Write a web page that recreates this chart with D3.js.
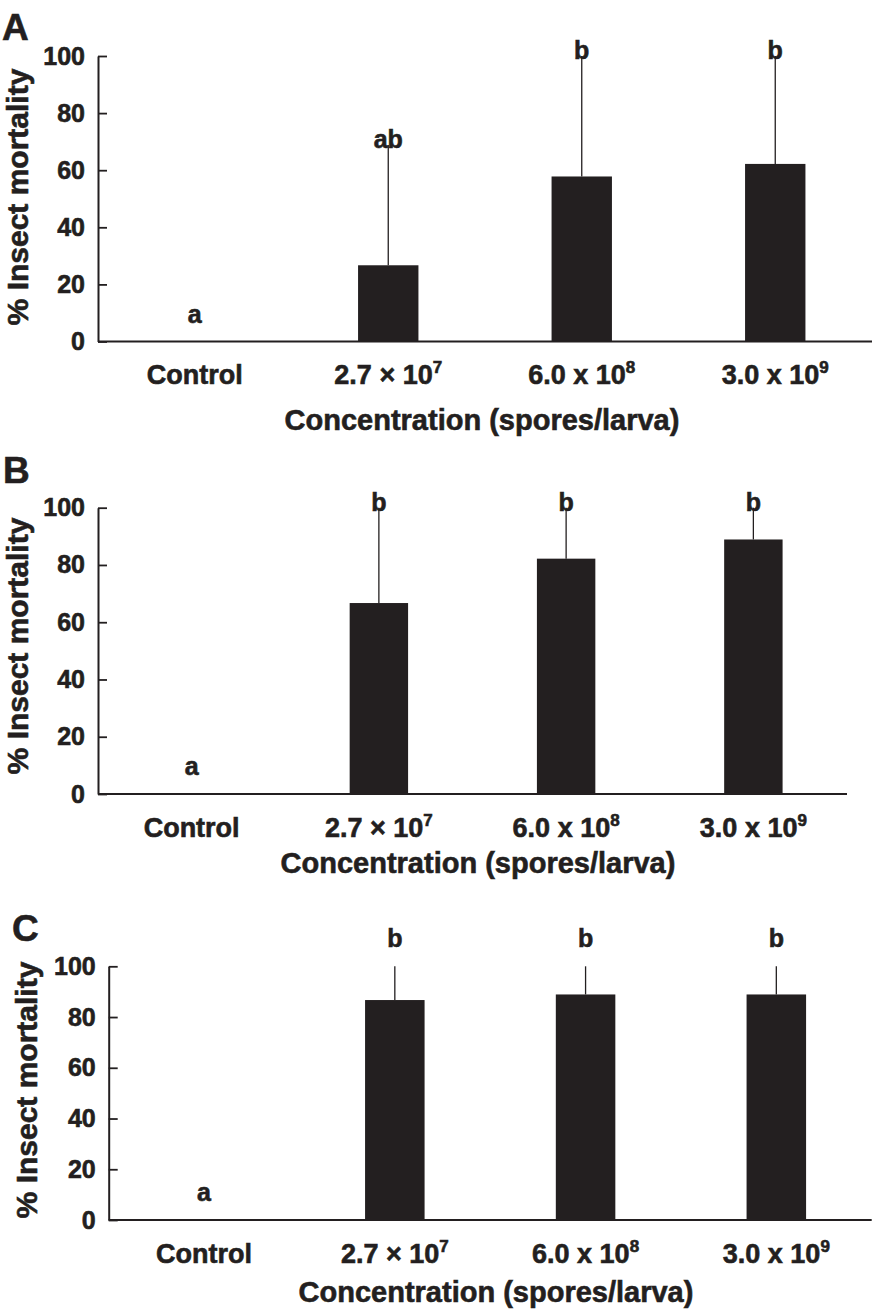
<!DOCTYPE html>
<html>
<head>
<meta charset="utf-8">
<script src="https://cdn.jsdelivr.net/npm/d3@7"></script>
<style>
  html, body { margin: 0; padding: 0; background: #fff; }
  svg { display: block; }
  text { font-family: "Liberation Sans", Arial, Helvetica, sans-serif; font-weight: bold; fill: #231f20;
         stroke: #231f20; stroke-width: 0.6px; }
</style>
</head>
<body>
<svg id="chart" width="872" height="1312"></svg>
<script>
// ---- data ----
const categories = ["Control", "2.7 × 10^7", "6.0 x 10^8", "3.0 x 10^9"];
const catBase = ["Control", "2.7 × 10", "6.0 x 10", "3.0 x 10"];
const catExp = ["", "7", "8", "9"];
const yTicks = [0, 20, 40, 60, 80, 100];

const mortalityA = [0, 26.7, 57.8, 62.2];
const errorA = [0, 42.1, 42.2, 37.8];
const lettersA = ["a", "ab", "b", "b"];

const mortalityB = [0, 66.7, 82.2, 88.9];
const errorB = [0, 33.3, 17.8, 11.1];
const lettersB = ["a", "b", "b", "b"];

const mortalityC = [0, 86.7, 88.9, 88.9];
const errorC = [0, 13.3, 11.1, 11.1];
const lettersC = ["a", "b", "b", "b"];

const panelNames = ["A", "B", "C"];
const yTitle = "% Insect mortality";
const xTitle = "Concentration (spores/larva)";

// ---- layout (positions only) ----
const layouts = [
  { left: 98, right: 872, top: 56, bottom: 341.5, letterX: 2, letterY: 40, yTitleX: 28, yTitleCY: 197,
    xTitleX: 482, xTitleY: 430, letterGap: -3 },
  { left: 98, right: 847, top: 507.7, bottom: 794, letterX: 3, letterY: 483, yTitleX: 28, yTitleCY: 646,
    xTitleX: 478, xTitleY: 873, letterGap: -3 },
  { left: 108.7, right: 871.7, top: 966.3, bottom: 1220, letterX: 12, letterY: 941, yTitleX: 37, yTitleCY: 1090,
    xTitleX: 496, xTitleY: 1301.5, letterGap: 19 }
];
const panelData = [
  { values: mortalityA, errors: errorA, letters: lettersA },
  { values: mortalityB, errors: errorB, letters: lettersB },
  { values: mortalityC, errors: errorC, letters: lettersC }
];

const ink = "#231f20";
const svg = d3.select("#chart");

panelData.forEach((pd, pi) => {
  const L = layouts[pi];
  const g = svg.append("g");

  const x = d3.scaleBand().domain(categories).range([L.left, L.right])
    .paddingInner(0.688).paddingOuter(0.344);
  const y = d3.scaleLinear().domain([0, 100]).range([L.bottom, L.top]);
  const bw = x.bandwidth();

  // bars
  g.selectAll("rect.bar").data(categories).join("rect")
    .attr("class", "bar")
    .attr("x", d => x(d))
    .attr("width", bw)
    .attr("y", (d, i) => y(pd.values[i]))
    .attr("height", (d, i) => y(0) - y(pd.values[i]))
    .attr("fill", ink);

  // error bars (upper only)
  g.selectAll("line.err").data(categories.filter((d, i) => pd.errors[i] > 0)).join("line")
    .attr("class", "err")
    .attr("x1", d => x(d) + bw / 2)
    .attr("x2", d => x(d) + bw / 2)
    .attr("y1", d => y(pd.values[categories.indexOf(d)]))
    .attr("y2", d => { const i = categories.indexOf(d); return y(pd.values[i] + pd.errors[i]); })
    .attr("stroke", ink).attr("stroke-width", 1.3);

  // y axis
  const yAxis = d3.axisLeft(y).tickValues(yTicks).tickSizeInner(-9).tickSizeOuter(0).tickPadding(13);
  const ya = g.append("g").attr("transform", `translate(${L.left},0)`).call(yAxis);
  ya.select(".domain").attr("stroke", ink).attr("stroke-width", 2);
  ya.selectAll(".tick line").attr("stroke", ink).attr("stroke-width", 1.8);
  ya.selectAll(".tick text").attr("font-size", 25).attr("fill", ink)
    .style("font-family", "'Liberation Sans', Arial, sans-serif").style("font-weight", "bold");

  // x axis
  const xAxis = d3.axisBottom(x).tickSize(0).tickSizeOuter(0);
  const xa = g.append("g").attr("transform", `translate(0,${L.bottom})`).call(xAxis);
  xa.select(".domain").attr("stroke", ink).attr("stroke-width", 2)
    .attr("d", `M${L.left},0H${L.right}`);
  xa.selectAll(".tick text").each(function(d, i) {
    const t = d3.select(this);
    t.text(null).attr("y", 42.5).attr("dy", 0).attr("font-size", 27).attr("fill", ink)
      .style("font-family", "'Liberation Sans', Arial, sans-serif").style("font-weight", "bold");
    t.append("tspan").text(catBase[i]);
    if (catExp[i]) t.append("tspan").attr("font-size", 17).attr("dy", -11).text(catExp[i]);
  });

  // significance letters
  g.selectAll("text.sig").data(categories).join("text")
    .attr("class", "sig")
    .attr("x", d => x(d) + bw / 2)
    .attr("y", (d, i) => {
      const top = pd.values[i] + pd.errors[i];
      const gap = top === 0 ? 19 : L.letterGap;
      return y(top) - gap;
    })
    .attr("text-anchor", "middle")
    .attr("font-size", 25)
    .text((d, i) => pd.letters[i]);

  // axis titles
  g.append("text")
    .attr("transform", `translate(${L.yTitleX},${L.yTitleCY}) rotate(-90)`)
    .attr("text-anchor", "middle").attr("font-size", 30).text(yTitle);
  g.append("text")
    .attr("x", L.xTitleX).attr("y", L.xTitleY)
    .attr("text-anchor", "middle").attr("font-size", 29).text(xTitle);

  // panel letter
  g.append("text").attr("x", L.letterX).attr("y", L.letterY)
    .attr("font-size", 37).text(panelNames[pi]);
});
</script>
</body>
</html>
